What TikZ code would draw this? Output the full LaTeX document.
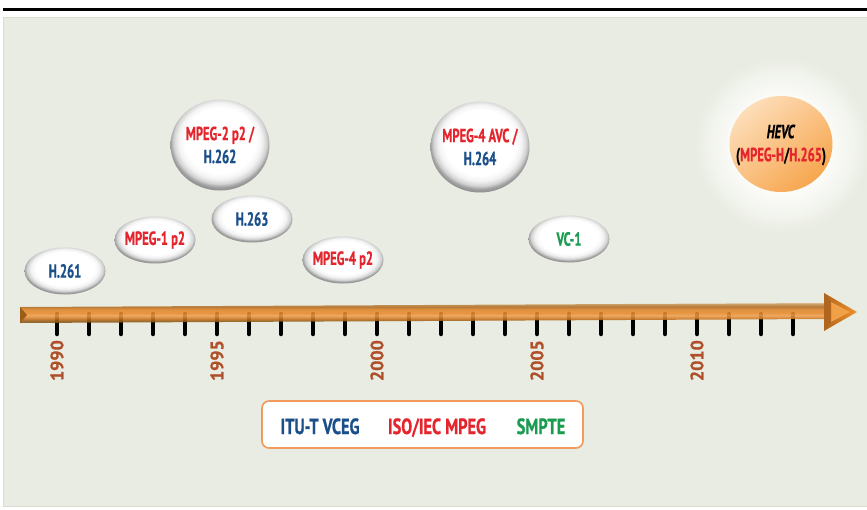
\documentclass[tikz,border=0pt]{standalone}
\usepackage{fontspec}
\setmainfont{PT Sans}
\newfontfamily\cnd{PT Sans}[FakeStretch=0.66, FakeBold=0.8]
\newfontfamily\cndl{PT Sans}[FakeStretch=0.74, FakeBold=0.8]
\newfontfamily\yrf{PT Sans}[FakeBold=0.8]
\usetikzlibrary{shapes.geometric}
\definecolor{bg}{HTML}{E9ECE2}
\definecolor{panelline}{HTML}{D9DDD1}
\definecolor{cblue}{HTML}{1B4F8A}
\definecolor{cred}{HTML}{E4252D}
\definecolor{cgreen}{HTML}{1A9C50}
\definecolor{cyear}{HTML}{B0502A}
\definecolor{lborder}{HTML}{F29A5C}
\definecolor{bw}{HTML}{FFFFFF}
\definecolor{bg1}{HTML}{F3F3F3}
\definecolor{bg2}{HTML}{D2D2D2}
\definecolor{bg3}{HTML}{A2A2A2}
\definecolor{bg4}{HTML}{8A8A8A}
\definecolor{glowin}{HTML}{FBFBF8}
\definecolor{glowmid}{HTML}{F2F4EE}
\definecolor{hevcL}{HTML}{FDDDB8}
\definecolor{hevcD}{HTML}{F7A64E}
\definecolor{b1}{HTML}{7E4E12}
\definecolor{b2}{HTML}{9A5E18}
\definecolor{b3}{HTML}{D27A24}
\definecolor{b4}{HTML}{EFA050}
\definecolor{b5}{HTML}{E88C2E}
\definecolor{b6}{HTML}{DE8428}
\definecolor{b7}{HTML}{B06A22}
\definecolor{b8}{HTML}{C4904E}
\definecolor{b9}{HTML}{D8AE78}
\definecolor{headD}{HTML}{B0661E}
\definecolor{headL}{HTML}{EE922F}
\definecolor{headI}{HTML}{F2A048}
\pgfdeclareradialshading{bubble}{\pgfpoint{0bp}{4bp}}{color(0bp)=(bw); color(18bp)=(bw); color(21bp)=(bg1); color(23.5bp)=(bg2); color(25bp)=(bg3); color(27bp)=(bg4); color(50bp)=(bg4)}
\pgfdeclareradialshading{glow}{\pgfpoint{0bp}{0bp}}{color(0bp)=(glowin); color(14bp)=(glowin); color(20bp)=(glowmid); color(25bp)=(bg); color(50bp)=(bg)}
\pgfdeclareverticalshading{barsh}{100bp}{color(0bp)=(b1); color(25bp)=(b1); color(31bp)=(b2); color(37bp)=(b3); color(44bp)=(b4); color(50bp)=(b5); color(59bp)=(b6); color(66bp)=(b7); color(72bp)=(b8); color(75bp)=(b9); color(100bp)=(b9)}
\tikzset{
  bubble/.style={ellipse, shade, shading=bubble, inner sep=0pt},
  smallb/.style={bubble, minimum width=81, minimum height=47},
  bigb/.style={bubble, minimum width=99, minimum height=91},
  btxt/.style={inner sep=0pt, align=center, font=\cnd\bfseries\fontsize{19}{23}\selectfont},
  yearlbl/.style={rotate=90, anchor=east, inner sep=0pt, text=cyear,
    font=\yrf\bfseries\fontsize{18}{18}\selectfont},
  legtxt/.style={anchor=base, inner sep=0pt, font=\cndl\bfseries\fontsize{22}{22}\selectfont},
  tick/.style={line width=4.5, line cap=round, black}
}
\begin{document}
\begin{tikzpicture}[x=1pt,y=-1pt]
\useasboundingbox (0,0) rectangle (867,509);
\fill[white] (0,0) rectangle (867,509);
% panel
\fill[bg, draw=panelline, line width=0.6] (3,17) rectangle (868,506);
% top rule
\draw[line width=3, black] (3,9.5) -- (867,9.5);
% HEVC glow
\shade[shading=glow] (782,145) circle[radius=88];
% ticks
\foreach \i in {0,...,23} {
  \draw[tick] (57+32*\i,314) -- (57+32*\i,334);
}
% bar
\shade[shading=barsh, opacity=0.88] (20,307) -- (826,303) -- (826,319) -- (20,323) -- cycle;
\fill[b2] (20,307) -- (27,315) -- (20,323) -- cycle;
% arrow head
\shade[left color=headD, right color=headL] (824,293) -- (857,312) -- (824,331) -- cycle;
\fill[headI] (831,302) -- (850,312) -- (831,322) -- cycle;
\fill[headD] (824,293) -- (831,302) -- (831,322) -- (824,331) -- cycle;
% years
\node[yearlbl] (y1990) at (57,340) {1990};
\node[yearlbl] (y1995) at (217,340) {1995};
\node[yearlbl] (y2000) at (377,340) {2000};
\node[yearlbl] (y2005) at (537,340) {2005};
\node[yearlbl] (y2010) at (697,340) {2010};
% bubbles
\node[smallb] (h261) at (65,271) {};
\node[btxt, text=cblue] (h261t) at (h261) {H.261};
\node[smallb] (mpeg1) at (155,240) {};
\node[btxt, text=cred] (mpeg1t) at (mpeg1) {MPEG-1 p2};
\node[bigb] (mpeg2) at (220,145) {};
\node[btxt] (mpeg2t) at (mpeg2) {\textcolor{cred}{MPEG-2 p2 /}\\\textcolor{cblue}{H.262}};
\node[smallb] (h263) at (252,219) {};
\node[btxt, text=cblue] (h263t) at (h263) {H.263};
\node[smallb] (mpeg4) at (343,260) {};
\node[btxt, text=cred] (mpeg4t) at (mpeg4) {MPEG-4 p2};
\node[bigb] (avc) at (480,147) {};
\node[btxt] (avct) at (avc) {\textcolor{cred}{MPEG-4 AVC /}\\\textcolor{cblue}{H.264}};
\node[smallb] (vc1) at (569,239) {};
\node[btxt, text=cgreen] (vc1t) at (vc1) {VC-1};
% HEVC
\node[ellipse, minimum width=103, minimum height=96, inner sep=0pt, shade,
  top color=hevcL, bottom color=hevcD, shading angle=40] (hevc) at (781,144) {};
\node[btxt] (hevct) at (781,145)
  {\textit{HEVC}\\(\textcolor{cred}{MPEG-H}/\textcolor{cred}{H.265})};
% legend
\node[draw=lborder, line width=1.6, rounded corners=7, fill=white,
  minimum width=321, minimum height=47, inner sep=0pt] (legend) at (422.5,424.5) {};
\node[legtxt, text=cblue] (itu) at (320,434) {ITU-T VCEG};
\node[legtxt, text=cred] (iso) at (437,434) {ISO/IEC MPEG};
\node[legtxt, text=cgreen] (smpte) at (541,434) {SMPTE};
\end{tikzpicture}
\end{document}
